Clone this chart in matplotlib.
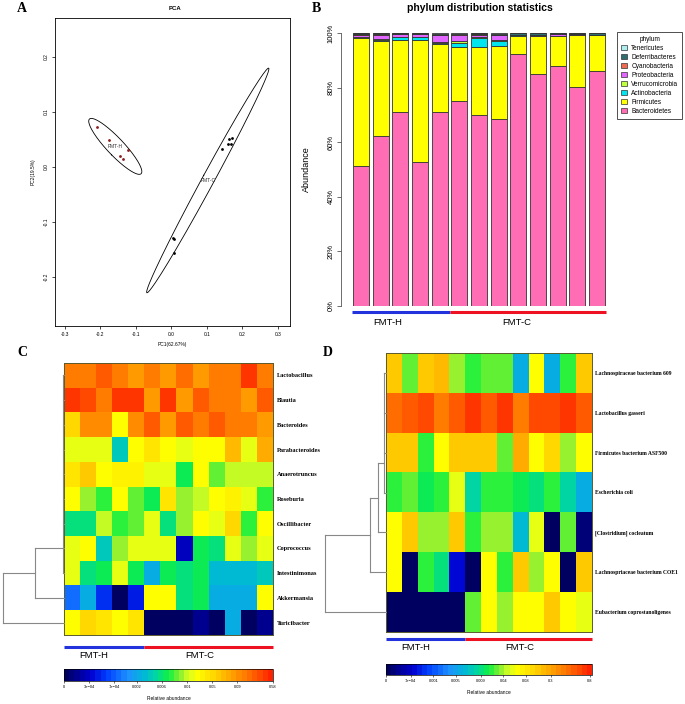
import numpy as np
import matplotlib
matplotlib.use("Agg")
import matplotlib.pyplot as plt
from matplotlib.colors import LinearSegmentedColormap, Normalize
from matplotlib.cm import ScalarMappable
from matplotlib.patches import Patch
import matplotlib.transforms as mtransforms

plt.rcParams["font.family"] = ["Liberation Sans", "DejaVu Sans"]
W, H = 685, 704
SERIF = ["Liberation Serif", "DejaVu Serif"]

# ── A: PCA scores ────────────────────────────────────────────────────────────
h_pc1 = [-0.210, -0.176, -0.123, -0.145, -0.137]
h_pc2 = [0.073, 0.049, 0.031, 0.020, 0.015]
c_pc1 = [0.142, 0.162, 0.170, 0.159, 0.168, 0.004, 0.007, 0.007]
c_pc2 = [0.033, 0.051, 0.053, 0.042, 0.042, -0.129, -0.131, -0.156]

# ── B: phylum composition (%) per sample ─────────────────────────────────────
phyla = ["Bacteroidetes", "Firmicutes", "Actinobacteria", "Verrucomicrobia",
         "Proteobacteria", "Cyanobacteria", "Deferribacteres", "Tenericutes"]
phylum_colors = ["#FF6EB4", "#FFFF00", "#00E5EE", "#C0FF3E",
                 "#E066FF", "#EE6A50", "#2F6F6F", "#AEEEEE"]
bacteroidetes = [51.3, 62.2, 70.9, 52.6, 70.9, 75.1, 69.9, 68.5, 92.2, 85.0, 88.0, 80.2, 86.2]
firmicutes = [46.8, 34.9, 26.5, 44.9, 24.9, 19.8, 24.8, 26.6, 6.8, 13.8, 10.9, 18.9, 12.9]
actinobacteria = [0.1, 0.3, 1.0, 1.0, 0.7, 1.3, 3.3, 2.0, 0.1, 0.1, 0.1, 0.1, 0.0]
verrucomicrobia = [0.3, 0.3, 0.2, 0.2, 0.2, 1.0, 0.4, 0.4, 0.0, 0.0, 0.0, 0.0, 0.0]
proteobacteria = [0.9, 1.7, 0.9, 0.8, 2.4, 2.2, 1.0, 1.7, 0.2, 0.2, 0.5, 0.4, 0.1]
cyanobacteria = [0.1, 0.1, 0.1, 0.1, 0.1, 0.1, 0.2, 0.1, 0.0, 0.0, 0.0, 0.0, 0.0]
deferribacteres = [0.4, 0.4, 0.3, 0.3, 0.6, 0.3, 0.3, 0.5, 0.6, 0.8, 0.4, 0.3, 0.7]
tenericutes = [0.1, 0.1, 0.1, 0.1, 0.2, 0.2, 0.1, 0.2, 0.1, 0.1, 0.1, 0.1, 0.1]
phylum_values = [bacteroidetes, firmicutes, actinobacteria, verrucomicrobia,
                 proteobacteria, cyanobacteria, deferribacteres, tenericutes]

# ── C / D: heatmaps (position on the colour key, 0 = lowest, 1 = highest) ────
genus_names = ["Lactobacillus", "Blautia", "Bacteroides", "Parabacteroides",
               "Anaerotruncus", "Roseburia", "Oscillibacter", "Coprococcus",
               "Intestinimonas", "Akkermansia", "Turicibacter"]
genus_level = [
    [0.85, 0.85, 0.92, 0.85, 0.82, 0.86, 0.82, 0.89, 0.82, 0.86, 0.86, 0.96, 0.86],
    [0.96, 0.93, 0.86, 0.97, 0.97, 0.82, 0.97, 0.82, 0.92, 0.86, 0.86, 0.82, 0.92],
    [0.70, 0.84, 0.84, 0.64, 0.84, 0.91, 0.82, 0.91, 0.86, 0.91, 0.86, 0.86, 0.80],
    [0.60, 0.62, 0.60, 0.42, 0.64, 0.68, 0.63, 0.61, 0.64, 0.64, 0.76, 0.60, 0.78],
    [0.68, 0.74, 0.64, 0.66, 0.66, 0.60, 0.60, 0.48, 0.64, 0.54, 0.59, 0.59, 0.59],
    [0.64, 0.56, 0.51, 0.63, 0.54, 0.48, 0.68, 0.57, 0.59, 0.64, 0.66, 0.60, 0.51],
    [0.47, 0.45, 0.59, 0.51, 0.54, 0.60, 0.47, 0.55, 0.64, 0.61, 0.70, 0.51, 0.63],
    [0.60, 0.63, 0.40, 0.56, 0.60, 0.60, 0.60, 0.10, 0.49, 0.46, 0.60, 0.55, 0.60],
    [0.60, 0.45, 0.49, 0.60, 0.49, 0.37, 0.49, 0.45, 0.49, 0.39, 0.39, 0.39, 0.42],
    [0.27, 0.37, 0.19, 0.00, 0.16, 0.64, 0.64, 0.45, 0.49, 0.37, 0.37, 0.37, 0.63],
    [0.63, 0.71, 0.69, 0.64, 0.68, 0.02, 0.02, 0.02, 0.07, 0.02, 0.37, 0.02, 0.05],
]
genus_ticks = ["0", "3e\u221204", "7e\u221204", "0.002", "0.006", "0.01", "0.05", "0.09", "0.58"]
genus_tick_pos = [0, 0.12, 0.24, 0.35, 0.47, 0.59, 0.71, 0.83, 1.0]

species_names = ["Lachnospiraceae bacterium 609", "Lactobacillus gasseri",
                 "Firmicutes bacterium ASF500", "Escherichia coli",
                 "[Clostridium] cocleatum", "Lachnospriaceae bacterium COE1",
                 "Eubacterium coprostanoligenes"]
species_level = [
    [0.74, 0.54, 0.73, 0.76, 0.57, 0.51, 0.53, 0.53, 0.37, 0.64, 0.37, 0.51, 0.74],
    [0.88, 0.90, 0.93, 0.87, 0.90, 0.97, 0.90, 0.97, 0.87, 0.93, 0.93, 0.96, 0.90],
    [0.73, 0.73, 0.51, 0.64, 0.73, 0.73, 0.73, 0.54, 0.78, 0.64, 0.70, 0.57, 0.64],
    [0.51, 0.53, 0.49, 0.51, 0.62, 0.43, 0.51, 0.51, 0.49, 0.46, 0.51, 0.43, 0.37],
    [0.64, 0.74, 0.57, 0.57, 0.74, 0.51, 0.57, 0.57, 0.39, 0.60, 0.02, 0.54, 0.03],
    [0.63, 0.02, 0.51, 0.47, 0.13, 0.02, 0.64, 0.51, 0.74, 0.57, 0.64, 0.02, 0.74],
    [0.02, 0.02, 0.02, 0.02, 0.02, 0.54, 0.64, 0.57, 0.64, 0.64, 0.74, 0.64, 0.60],
]
species_ticks = ["0", "7e\u221204", "0.001", "0.005", "0.009", "0.04", "0.08", "0.3", "0.8"]
species_tick_pos = [0, 0.12, 0.23, 0.34, 0.46, 0.57, 0.68, 0.80, 0.99]

# dendrogram merge heights (relative to root)
genus_fan_h, genus_fan_pos = 0.016, 7.5
genus_chain = [(9, 0.475), (10, 1.0)]
species_fan_h, species_fan_pos = 0.033, 2.76
species_chain = [(4, 0.131), (5, 0.262), (6, 1.0)]

groups = ["FMT-H", "FMT-C"]
group_colors = ["#2233DD", "#EE1122"]
n_h = 5

key_cmap = LinearSegmentedColormap.from_list("key", [
    (0.0, "#000060"), (0.12, "#0000D0"), (0.2, "#0040FF"), (0.3, "#1E90FF"),
    (0.38, "#00B8D8"), (0.44, "#00D8A0"), (0.5, "#10F040"), (0.56, "#90F030"),
    (0.6, "#D8FF20"), (0.64, "#FFFF00"), (0.72, "#FFD800"), (0.8, "#FFA800"),
    (0.88, "#FF7800"), (0.95, "#FF4800"), (1.0, "#FF2200")], N=40)

fig = plt.figure(figsize=(W / 100, H / 100), dpi=100)


def box(x0, y0, x1, y1):
    return fig.add_axes([x0 / W, 1 - y1 / H, (x1 - x0) / W, (y1 - y0) / H])


def ftext(x, y, s, **kw):
    kw.setdefault("ha", "center")
    kw.setdefault("va", "center")
    fig.text(x / W, 1 - y / H, s, **kw)


def ellipse(ax, xs, ys, k=2.146):
    pts = np.column_stack([xs, ys])
    mu = pts.mean(axis=0)
    vals, vecs = np.linalg.eigh(np.cov(pts.T))
    t = np.linspace(0, 2 * np.pi, 200)
    circ = np.column_stack([np.cos(t), np.sin(t)]) * np.sqrt(vals) * k
    e = circ @ vecs.T + mu
    ax.plot(e[:, 0], e[:, 1], color="black", lw=0.6)
    return mu


# ── panel letters ────────────────────────────────────────────────────────────
for x, y, s in [(22, 9, "A"), (316, 9, "B"), (22, 352, "C"), (328, 352, "D")]:
    ftext(x, y, s, family=SERIF, fontweight="bold", fontsize=10)

# ── A ────────────────────────────────────────────────────────────────────────
ax = box(55, 18, 290, 326)
ax.scatter(h_pc1, h_pc2, s=4, color="#8B1A1A", zorder=3, linewidths=0)
ax.scatter(c_pc1, c_pc2, s=4, color="black", zorder=3, linewidths=0)
for xs, ys, g in [(h_pc1, h_pc2, "FMT-H"), (c_pc1, c_pc2, "FMT-C")]:
    m = ellipse(ax, xs, ys)
    ax.text(m[0], m[1], g, fontsize=3.6, ha="center", va="center", color="#333333")
ax.set_xlim(-0.328, 0.334)
ax.set_ylim(-0.289, 0.271)
ax.set_xticks([-0.3, -0.2, -0.1, 0, 0.1, 0.2, 0.3])
ax.set_xticklabels(["-0.3", "-0.2", "-0.1", "0.0", "0.1", "0.2", "0.3"])
ax.set_yticks([-0.2, -0.1, 0, 0.1, 0.2])
ax.set_yticklabels(["-0.2", "-0.1", "0.0", "0.1", "0.2"], rotation=90, va="center")
ax.tick_params(labelsize=3.5, length=2, width=0.5, pad=2.5)
for sp in ax.spines.values():
    sp.set_linewidth(0.6)
ax.text(0.5, -0.06, "PC1(62.67%)", transform=ax.transAxes, fontsize=3.5, ha="center", va="center")
ax.text(-0.095, 0.5, "PC2(19.5%)", transform=ax.transAxes, fontsize=3.5, ha="center",
        va="center", rotation=90)
ftext(175, 8, "PCA", fontsize=4.3, fontweight="bold")

# ── B ────────────────────────────────────────────────────────────────────────
ax = box(341, 33, 615, 306)
x = np.arange(len(bacteroidetes))
bottom = np.zeros(len(x))
for vals, col in zip(phylum_values, phylum_colors):
    v = np.array(vals) / 100
    ax.bar(x, v, bottom=bottom, width=0.8, color=col, edgecolor="#333333", linewidth=0.6)
    bottom += v
ax.set_xlim(-1.017, 12.915)
ax.set_ylim(0, 1)
for s in ["top", "right", "bottom"]:
    ax.spines[s].set_visible(False)
ax.spines["left"].set_bounds(0, 1)
ax.spines["left"].set_linewidth(0.6)
ax.spines["left"].set_color("#555555")
ax.set_xticks([])
ax.set_yticks(np.linspace(0, 1, 6))
ax.set_yticklabels([f"{int(v)}%" for v in np.linspace(0, 100, 6)], rotation=90, va="center")
ax.tick_params(axis="y", labelsize=5.5, length=3, width=0.6, pad=1.5, color="#555555")
ax.text(-0.125, 0.5, "Abundance", transform=ax.transAxes, rotation=90, fontsize=6.5,
        ha="center", va="center")
trans = mtransforms.blended_transform_factory(ax.transData, ax.transAxes)
ax.plot([-0.45, n_h - 0.5], [-0.022, -0.022], color=group_colors[0], lw=2.2,
        transform=trans, clip_on=False, solid_capstyle="butt")
ax.plot([n_h - 0.5, 12.45], [-0.022, -0.022], color=group_colors[1], lw=2.2,
        transform=trans, clip_on=False, solid_capstyle="butt")
for gx, g in zip([1.37, 7.93], groups):
    ax.text(gx, -0.062, g, transform=trans, fontsize=6.8, ha="center", va="center")
ftext(480, 8, "phylum distribution statistics", fontsize=7.5, fontweight="bold")
handles = [Patch(facecolor=c, edgecolor="#333333", linewidth=0.5, label=p)
           for p, c in zip(phyla, phylum_colors)][::-1]
leg = fig.legend(handles=handles, loc="upper left", bbox_to_anchor=(617 / W, 1 - 32 / H),
                 title="phylum", fontsize=4.7, title_fontsize=4.7, frameon=True,
                 fancybox=False, edgecolor="black", handlelength=0.9, handleheight=0.9,
                 handletextpad=0.7, labelspacing=0.3, borderpad=0.6, borderaxespad=0)
leg.get_frame().set_linewidth(0.6)


# ── C / D heatmaps ───────────────────────────────────────────────────────────
def dendro(ax, n, fan_h, fan_pos, chain, fan_n):
    kw = dict(color="#888888", lw=0.8, clip_on=False)
    for i in range(fan_n):
        ax.plot([0, fan_h], [i + 0.5, i + 0.5], **kw)
    ax.plot([fan_h, fan_h], [0.5, fan_n - 0.5], **kw)
    pos, h = fan_pos, fan_h
    for leaf, ph in chain:
        lp = leaf + 0.5
        ax.plot([h, ph], [pos, pos], **kw)
        ax.plot([0, ph], [lp, lp], **kw)
        ax.plot([ph, ph], [pos, lp], **kw)
        pos, h = (pos + lp) / 2, ph
    ax.set_xlim(1.0, 0)
    ax.set_ylim(n, 0)
    ax.axis("off")


def heatmap(rect, drect, crect, level, names, fan, chain, ticks, tick_pos, gy, ly,
            label_size, key_label_y):
    level = np.array(level)
    nr, nc = level.shape
    ax = box(*rect)
    ax.imshow(level, cmap=key_cmap, vmin=0, vmax=1, aspect="auto",
              interpolation="nearest", extent=(0, nc, nr, 0))
    ax.set_xticks([])
    ax.yaxis.tick_right()
    ax.set_yticks(np.arange(nr) + 0.5)
    ax.set_yticklabels(names, family=SERIF, fontweight="bold", fontsize=label_size)
    ax.tick_params(axis="y", length=0, pad=2.5)
    for sp in ax.spines.values():
        sp.set_linewidth(0.7)
        sp.set_color("#5A5A30")
    trans = mtransforms.blended_transform_factory(ax.transData, ax.transAxes)
    ax.plot([0, n_h], [gy, gy], color=group_colors[0], lw=2.2, transform=trans,
            clip_on=False, solid_capstyle="butt")
    ax.plot([n_h, nc], [gy, gy], color=group_colors[1], lw=2.2, transform=trans,
            clip_on=False, solid_capstyle="butt")
    for gx, g in zip([1.87, 8.45], groups):
        ax.text(gx, ly, g, transform=trans, fontsize=6.8, ha="center", va="center")

    dax = box(*drect)
    dendro(dax, nr, fan[0], fan[1], chain, fan[2])

    cax = box(*crect)
    cb = fig.colorbar(ScalarMappable(norm=Normalize(0, 1), cmap=key_cmap), cax=cax,
                      orientation="horizontal", ticks=tick_pos)
    cb.set_ticklabels(ticks)
    cb.outline.set_linewidth(0.5)
    cax.tick_params(labelsize=2.9, length=1.5, width=0.4, pad=1.5)
    ftext((crect[0] + crect[2]) / 2, key_label_y, "Relative abundance", fontsize=3.5)


heatmap((64, 363, 273, 635), (3, 363, 64, 635), (64, 669, 273, 681),
        genus_level, genus_names, (genus_fan_h, genus_fan_pos, 9), genus_chain,
        genus_ticks, genus_tick_pos, -0.044, -0.077, 4.6, 698)
heatmap((386, 353, 592, 632), (325, 353, 386, 632), (386, 664, 592, 675),
        species_level, species_names, (species_fan_h, species_fan_pos, 4), species_chain,
        species_ticks, species_tick_pos, -0.025, -0.057, 4.1, 693)

fig.savefig("out.png", dpi=100)
